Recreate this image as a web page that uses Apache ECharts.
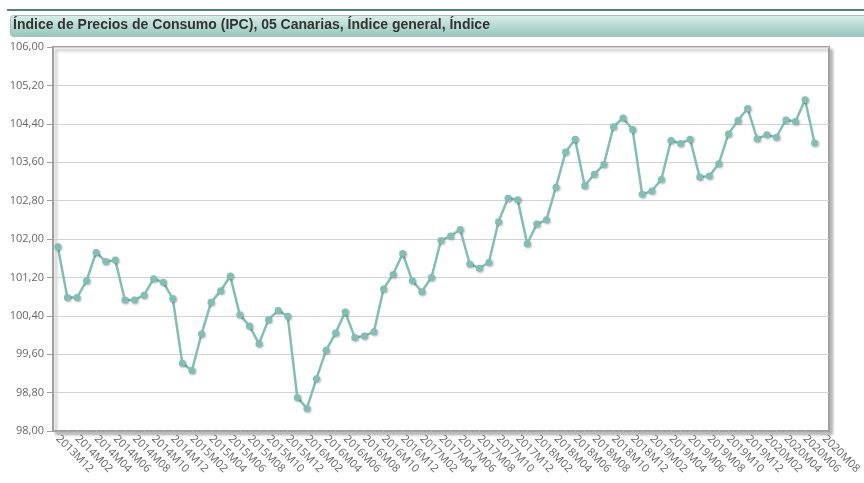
<!DOCTYPE html>
<html>
<head>
<meta charset="utf-8">
<script src="https://cdn.jsdelivr.net/npm/echarts@6/dist/echarts.min.js"></script>
<style>
  html, body { margin: 0; padding: 0; background: #fff; }
  #chart { width: 864px; height: 483px; }
</style>
</head>
<body>
<div id="chart"></div>
<script>
// periodos mensuales 2013M12 .. 2020M08 (el último sin dato)
const years = [2014, 2015, 2016, 2017, 2018, 2019, 2020]
const months = ['01', '02', '03', '04', '05', '06', '07', '08', '09', '10', '11', '12']
const periods = ['2013M12']
years.forEach(y => {
  months.forEach(m => {
    if (y === 2020 && Number(m) > 8) return
    periods.push(y + 'M' + m)
  })
})

// índice general
const ipc2013 = [101.84]
const ipc2014 = [100.78, 100.78, 101.13, 101.72, 101.53, 101.56, 100.73, 100.73, 100.83, 101.17, 101.10, 100.76]
const ipc2015 = [99.41, 99.26, 100.02, 100.68, 100.92, 101.23, 100.42, 100.19, 99.82, 100.32, 100.51, 100.39]
const ipc2016 = [98.70, 98.47, 99.09, 99.68, 100.04, 100.48, 99.95, 99.98, 100.07, 100.96, 101.26, 101.70]
const ipc2017 = [101.13, 100.90, 101.20, 101.97, 102.06, 102.20, 101.48, 101.39, 101.51, 102.36, 102.85, 102.82]
const ipc2018 = [101.90, 102.31, 102.40, 103.08, 103.81, 104.08, 103.11, 103.35, 103.55, 104.34, 104.52, 104.28]
const ipc2019 = [102.93, 103.00, 103.24, 104.05, 103.99, 104.08, 103.29, 103.31, 103.57, 104.19, 104.47, 104.72]
const ipc2020 = [104.09, 104.17, 104.12, 104.48, 104.45, 104.90, 104.00]
const ipc = [].concat(ipc2013, ipc2014, ipc2015, ipc2016, ipc2017, ipc2018, ipc2019, ipc2020)

const yTicks = [98, 98.8, 99.6, 100.4, 101.2, 102, 102.8, 103.6, 104.4, 105.2, 106]

const titulo = 'Índice de Precios de Consumo (IPC), 05 Canarias, Índice general, Índice'

const myChart = echarts.init(document.getElementById('chart'))

const fmt = v => Number(v).toFixed(2).replace('.', ',')

const option = {
  animation: false,
  graphic: [
    // línea superior
    {
      type: 'rect',
      left: 7, top: 9,
      shape: { width: 870, height: 2 },
      style: { fill: '#4e877a' },
      z: 1
    },
    // barra del título
    {
      type: 'rect',
      left: 10, top: 15,
      shape: { width: 870, height: 21, r: 3 },
      style: {
        fill: new echarts.graphic.LinearGradient(0, 0, 0, 1, [
          { offset: 0, color: '#dbeeea' },
          { offset: 1, color: '#92c6bc' }
        ]),
        stroke: '#b4b9b8',
        lineWidth: 1
      },
      z: 1
    }
  ],
  title: {
    text: titulo,
    left: 13,
    top: 18,
    padding: 0,
    textStyle: {
      fontFamily: 'Liberation Sans',
      fontWeight: 'bold',
      fontSize: 14,
      color: '#333'
    },
    z: 5
  },
  grid: {
    left: 53, right: 35, top: 47, bottom: 52,
    show: true,
    backgroundColor: '#fff',
    borderColor: '#a0a0a0',
    borderWidth: 2,
    shadowColor: 'rgba(0,0,0,0.25)',
    shadowBlur: 3,
    shadowOffsetX: 3,
    shadowOffsetY: 3
  },
  xAxis: {
    type: 'category',
    data: periods,
    boundaryGap: true,
    axisLine: { lineStyle: { color: '#a0a0a0', width: 2 } },
    axisTick: {
      show: true,
      interval: 0,
      alignWithLabel: true,
      length: 4,
      lineStyle: { color: '#bbb' }
    },
    axisLabel: {
      interval: 1,
      rotate: -45,
      fontFamily: 'Open Sans',
      fontSize: 11,
      color: '#666',
      margin: 6
    },
    splitLine: { show: false }
  },
  yAxis: {
    type: 'value',
    min: 98,
    max: 106,
    axisLine: { show: true, lineStyle: { color: '#a0a0a0', width: 2 } },
    axisTick: {
      show: true,
      length: 6,
      lineStyle: { color: '#a0a0a0' },
      customValues: yTicks
    },
    axisLabel: {
      customValues: yTicks,
      formatter: fmt,
      fontFamily: 'Open Sans',
      fontSize: 11,
      color: '#666',
      margin: 9
    },
    splitLine: { show: true, lineStyle: { color: '#d3d3d3', width: 1 } }
  },
  series: [{
    name: 'IPC',
    type: 'line',
    data: ipc,
    symbol: 'circle',
    symbolSize: 7,
    showSymbol: true,
    showAllSymbol: true,
    lineStyle: { color: '#80bfb5', width: 2.5 },
    itemStyle: {
      color: '#80bfb5',
      shadowColor: 'rgba(0,0,0,0.3)',
      shadowBlur: 2,
      shadowOffsetX: 1,
      shadowOffsetY: 1
    }
  }]
}

myChart.setOption(option)
</script>
</body>
</html>
